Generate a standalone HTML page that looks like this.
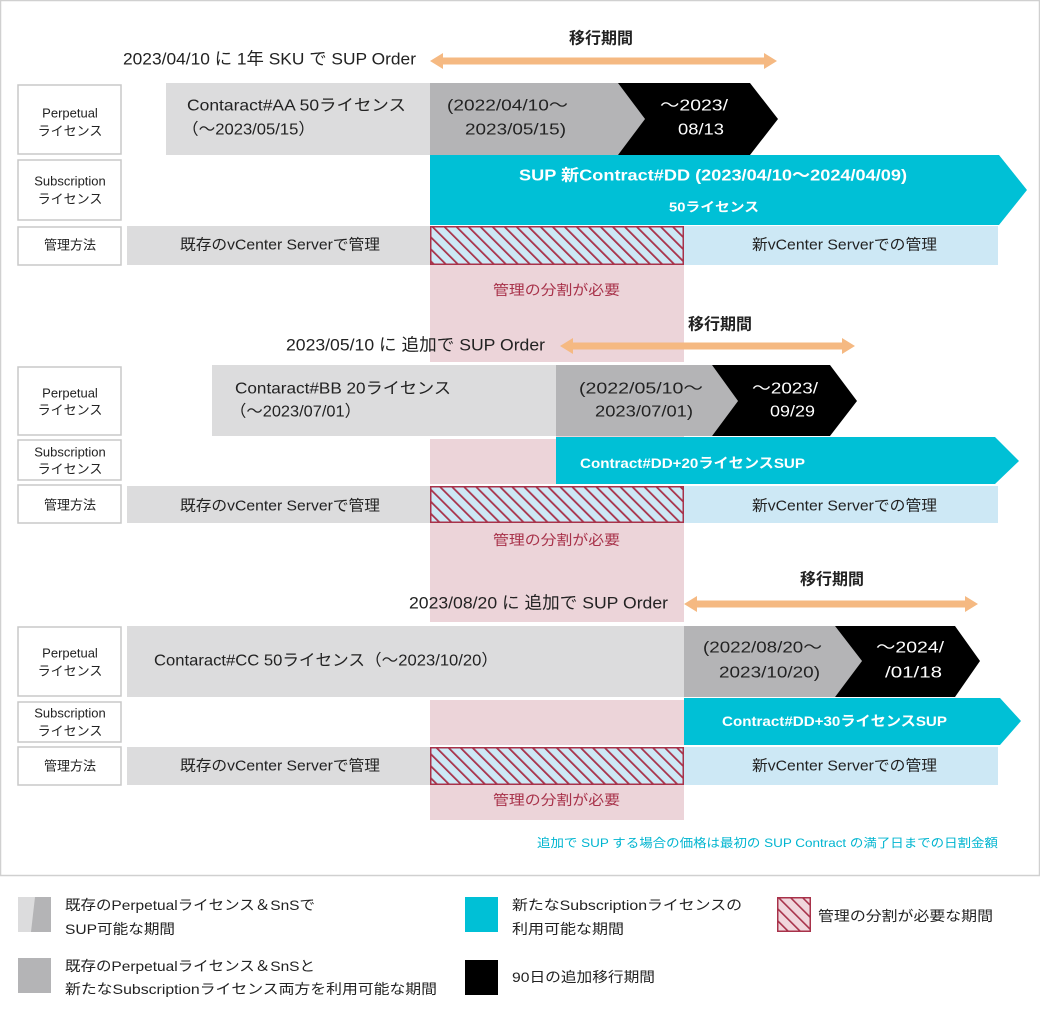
<!DOCTYPE html>
<html><head><meta charset="utf-8">
<style>
html,body{margin:0;padding:0;background:#fff;}
svg{display:block;}
text{font-family:"Liberation Sans","Noto Sans CJK JP",sans-serif;fill:#222;}
.lb{font-size:13px;text-anchor:middle;}
.w{fill:#fff;font-weight:bold;}
.pk{fill:#a8324a;font-size:14px;}
</style></head><body>
<svg width="1040" height="1012" viewBox="0 0 1040 1012" xmlns="http://www.w3.org/2000/svg">
<defs>
<pattern id="h" width="8.5" height="8.5" patternUnits="userSpaceOnUse" patternTransform="rotate(-45)">
<rect width="8.5" height="8.5" fill="#cde8f5"/>
<rect x="0" y="0" width="1.8" height="8.5" fill="#a8324a"/>
</pattern>
<pattern id="h2" width="8.5" height="8.5" patternUnits="userSpaceOnUse" patternTransform="rotate(-45)">
<rect width="8.5" height="8.5" fill="#f0d6dc"/>
<rect x="0" y="0" width="1.6" height="8.5" fill="#a8324a"/>
</pattern>
</defs>
<rect x="0.5" y="0.5" width="1039" height="875" fill="#fff" stroke="#d0d0d0" stroke-width="1.5"/>

<!-- pink column -->
<rect x="430" y="265" width="254" height="555" fill="#ecd4d9"/>
<rect x="430" y="362" width="254" height="3" fill="#fff"/>
<rect x="430" y="436" width="126" height="3" fill="#fff"/>
<rect x="430" y="484" width="254" height="2" fill="#fff"/>
<rect x="430" y="622" width="254" height="4" fill="#fff"/>
<rect x="430" y="697" width="254" height="3" fill="#fff"/>
<rect x="430" y="745" width="254" height="2" fill="#fff"/>

<!-- ============ Section 1 ============ -->
<text x="601" y="39" font-size="16" font-weight="bold" text-anchor="middle" dominant-baseline="central">移行期間</text>
<polygon points="430,61 443,53 443,57.5 764,57.5 764,53 777,61 764,69 764,64.5 443,64.5 443,69" fill="#f5b982"/>
<text x="123" y="59" font-size="17" dominant-baseline="central" textLength="293" lengthAdjust="spacingAndGlyphs">2023/04/10 に 1年 SKU で SUP Order</text>

<rect x="18" y="85" width="103" height="69" fill="#fff" stroke="#c8c8c8" stroke-width="1.5"/>
<text class="lb" x="70" y="113" dominant-baseline="central">Perpetual</text>
<text class="lb" x="70" y="131" dominant-baseline="central">ライセンス</text>
<rect x="18" y="160" width="103" height="60" fill="#fff" stroke="#c8c8c8" stroke-width="1.5"/>
<text class="lb" x="70" y="181" dominant-baseline="central">Subscription</text>
<text class="lb" x="70" y="199" dominant-baseline="central">ライセンス</text>
<rect x="18" y="227" width="103" height="38" fill="#fff" stroke="#c8c8c8" stroke-width="1.5"/>
<text class="lb" x="70" y="245" dominant-baseline="central">管理方法</text>

<rect x="166" y="83" width="264" height="72" fill="#dcdcdd"/>
<polygon points="430,83 620,83 645,119 620,155 430,155" fill="#b4b4b6"/>
<polygon points="618,83 750,83 778,119 750,155 618,155 645,119" fill="#000"/>
<text x="187" y="106" font-size="16" dominant-baseline="central" textLength="219" lengthAdjust="spacingAndGlyphs">Contaract#AA 50ライセンス</text>
<text x="182" y="130" font-size="16" dominant-baseline="central" textLength="133" lengthAdjust="spacingAndGlyphs">（〜2023/05/15）</text>
<text x="447" y="106" font-size="16" dominant-baseline="central" textLength="121" lengthAdjust="spacingAndGlyphs">(2022/04/10〜</text>
<text x="465" y="130" font-size="16" dominant-baseline="central" textLength="101" lengthAdjust="spacingAndGlyphs">2023/05/15)</text>
<text x="660" y="106" font-size="16" dominant-baseline="central" style="fill:#fff" textLength="68" lengthAdjust="spacingAndGlyphs">〜2023/</text>
<text x="678" y="130" font-size="16" dominant-baseline="central" style="fill:#fff" textLength="46" lengthAdjust="spacingAndGlyphs">08/13</text>

<polygon points="430,155 999,155 1027,190 999,225 430,225" fill="#00c0d6"/>
<text class="w" x="519" y="176" font-size="16" dominant-baseline="central" textLength="388" lengthAdjust="spacingAndGlyphs">SUP 新Contract#DD (2023/04/10〜2024/04/09)</text>
<text class="w" x="669" y="207" font-size="13" dominant-baseline="central" textLength="90" lengthAdjust="spacingAndGlyphs">50ライセンス</text>

<rect x="127" y="226" width="303" height="39" fill="#dcdcdd"/>
<rect x="430.75" y="226.75" width="252.5" height="37.5" fill="url(#h)" stroke="#a8324a" stroke-width="1.5"/>
<rect x="684" y="226" width="314" height="39" fill="#cde8f5"/>
<text x="180" y="245" font-size="15" dominant-baseline="central" textLength="200" lengthAdjust="spacingAndGlyphs">既存のvCenter Serverで管理</text>
<text x="752" y="245" font-size="15" dominant-baseline="central" textLength="185" lengthAdjust="spacingAndGlyphs">新vCenter Serverでの管理</text>
<text class="pk" x="493" y="290" dominant-baseline="central" textLength="127" lengthAdjust="spacingAndGlyphs">管理の分割が必要</text>

<!-- ============ Section 2 ============ -->
<text x="720" y="325" font-size="16" font-weight="bold" text-anchor="middle" dominant-baseline="central">移行期間</text>
<polygon points="560,346 573,338 573,342.5 842,342.5 842,338 855,346 842,354 842,349.5 573,349.5 573,354" fill="#f5b982"/>
<text x="286" y="345" font-size="17" dominant-baseline="central" textLength="259" lengthAdjust="spacingAndGlyphs">2023/05/10 に 追加で SUP Order</text>

<rect x="18" y="367" width="103" height="68" fill="#fff" stroke="#c8c8c8" stroke-width="1.5"/>
<text class="lb" x="70" y="393" dominant-baseline="central">Perpetual</text>
<text class="lb" x="70" y="410" dominant-baseline="central">ライセンス</text>
<rect x="18" y="440" width="103" height="40" fill="#fff" stroke="#c8c8c8" stroke-width="1.5"/>
<text class="lb" x="70" y="452" dominant-baseline="central">Subscription</text>
<text class="lb" x="70" y="469" dominant-baseline="central">ライセンス</text>
<rect x="18" y="485" width="103" height="38" fill="#fff" stroke="#c8c8c8" stroke-width="1.5"/>
<text class="lb" x="70" y="505" dominant-baseline="central">管理方法</text>

<rect x="212" y="365" width="344" height="71" fill="#dcdcdd"/>
<polygon points="556,365 712,365 738,401 712,436 556,436" fill="#b4b4b6"/>
<polygon points="712,365 830,365 857,401 830,436 712,436 738,401" fill="#000"/>
<text x="235" y="389" font-size="16" dominant-baseline="central" textLength="216" lengthAdjust="spacingAndGlyphs">Contaract#BB 20ライセンス</text>
<text x="230" y="412" font-size="16" dominant-baseline="central" textLength="131" lengthAdjust="spacingAndGlyphs">（〜2023/07/01）</text>
<text x="579" y="389" font-size="16" dominant-baseline="central" textLength="124" lengthAdjust="spacingAndGlyphs">(2022/05/10〜</text>
<text x="595" y="412" font-size="16" dominant-baseline="central" textLength="98" lengthAdjust="spacingAndGlyphs">2023/07/01)</text>
<text x="752" y="389" font-size="16" dominant-baseline="central" style="fill:#fff" textLength="66" lengthAdjust="spacingAndGlyphs">〜2023/</text>
<text x="770" y="412" font-size="16" dominant-baseline="central" style="fill:#fff" textLength="45" lengthAdjust="spacingAndGlyphs">09/29</text>

<polygon points="556,437 995,437 1019,461 995,484 556,484" fill="#00c0d6"/>
<text class="w" x="580" y="463" font-size="14" dominant-baseline="central" textLength="225" lengthAdjust="spacingAndGlyphs">Contract#DD+20ライセンスSUP</text>

<rect x="127" y="486" width="303" height="37" fill="#dcdcdd"/>
<rect x="430.75" y="486.75" width="252.5" height="35.5" fill="url(#h)" stroke="#a8324a" stroke-width="1.5"/>
<rect x="684" y="486" width="314" height="37" fill="#cde8f5"/>
<text x="180" y="506" font-size="15" dominant-baseline="central" textLength="200" lengthAdjust="spacingAndGlyphs">既存のvCenter Serverで管理</text>
<text x="752" y="506" font-size="15" dominant-baseline="central" textLength="185" lengthAdjust="spacingAndGlyphs">新vCenter Serverでの管理</text>
<text class="pk" x="493" y="540" dominant-baseline="central" textLength="127" lengthAdjust="spacingAndGlyphs">管理の分割が必要</text>

<!-- ============ Section 3 ============ -->
<text x="832" y="580" font-size="16" font-weight="bold" text-anchor="middle" dominant-baseline="central">移行期間</text>
<polygon points="684,604 697,596 697,600.5 965,600.5 965,596 978,604 965,612 965,607.5 697,607.5 697,612" fill="#f5b982"/>
<text x="409" y="603" font-size="17" dominant-baseline="central" textLength="259" lengthAdjust="spacingAndGlyphs">2023/08/20 に 追加で SUP Order</text>

<rect x="18" y="627" width="103" height="69" fill="#fff" stroke="#c8c8c8" stroke-width="1.5"/>
<text class="lb" x="70" y="653" dominant-baseline="central">Perpetual</text>
<text class="lb" x="70" y="671" dominant-baseline="central">ライセンス</text>
<rect x="18" y="702" width="103" height="40" fill="#fff" stroke="#c8c8c8" stroke-width="1.5"/>
<text class="lb" x="70" y="713" dominant-baseline="central">Subscription</text>
<text class="lb" x="70" y="731" dominant-baseline="central">ライセンス</text>
<rect x="18" y="747" width="103" height="38" fill="#fff" stroke="#c8c8c8" stroke-width="1.5"/>
<text class="lb" x="70" y="766" dominant-baseline="central">管理方法</text>

<rect x="127" y="626" width="557" height="71" fill="#dcdcdd"/>
<polygon points="684,626 835,626 862,661 835,697 684,697" fill="#b4b4b6"/>
<polygon points="835,626 955,626 980,661 955,697 835,697 862,661" fill="#000"/>
<text x="154" y="661" font-size="16" dominant-baseline="central" textLength="344" lengthAdjust="spacingAndGlyphs">Contaract#CC 50ライセンス（〜2023/10/20）</text>
<text x="703" y="648" font-size="16" dominant-baseline="central" textLength="119" lengthAdjust="spacingAndGlyphs">(2022/08/20〜</text>
<text x="719" y="673" font-size="16" dominant-baseline="central" textLength="101" lengthAdjust="spacingAndGlyphs">2023/10/20)</text>
<text x="876" y="648" font-size="16" dominant-baseline="central" style="fill:#fff" textLength="68" lengthAdjust="spacingAndGlyphs">〜2024/</text>
<text x="885" y="673" font-size="16" dominant-baseline="central" style="fill:#fff" textLength="57" lengthAdjust="spacingAndGlyphs">/01/18</text>

<polygon points="684,698 1000,698 1021,721 1000,745 684,745" fill="#00c0d6"/>
<text class="w" x="722" y="721" font-size="14" dominant-baseline="central" textLength="225" lengthAdjust="spacingAndGlyphs">Contract#DD+30ライセンスSUP</text>

<rect x="127" y="747" width="303" height="38" fill="#dcdcdd"/>
<rect x="430.75" y="747.75" width="252.5" height="36.5" fill="url(#h)" stroke="#a8324a" stroke-width="1.5"/>
<rect x="684" y="747" width="314" height="38" fill="#cde8f5"/>
<text x="180" y="766" font-size="15" dominant-baseline="central" textLength="200" lengthAdjust="spacingAndGlyphs">既存のvCenter Serverで管理</text>
<text x="752" y="766" font-size="15" dominant-baseline="central" textLength="185" lengthAdjust="spacingAndGlyphs">新vCenter Serverでの管理</text>
<text class="pk" x="493" y="800" dominant-baseline="central" textLength="127" lengthAdjust="spacingAndGlyphs">管理の分割が必要</text>

<text x="537" y="843" font-size="12" dominant-baseline="central" style="fill:#00b5d0" textLength="461" lengthAdjust="spacingAndGlyphs">追加で SUP する場合の価格は最初の SUP Contract の満了日までの日割金額</text>

<!-- ============ Legend ============ -->
<rect x="18" y="897" width="33" height="35" fill="#dcdcdd"/>
<polygon points="35,897 51,897 51,932 31,932" fill="#b4b4b6"/>
<text x="65" y="905" font-size="14" dominant-baseline="central" textLength="250" lengthAdjust="spacingAndGlyphs">既存のPerpetualライセンス＆SnSで</text>
<text x="65" y="929" font-size="14" dominant-baseline="central" textLength="110" lengthAdjust="spacingAndGlyphs">SUP可能な期間</text>

<rect x="18" y="958" width="33" height="35" fill="#b4b4b6"/>
<text x="65" y="966" font-size="14" dominant-baseline="central" textLength="250" lengthAdjust="spacingAndGlyphs">既存のPerpetualライセンス＆SnSと</text>
<text x="65" y="989" font-size="14" dominant-baseline="central" textLength="372" lengthAdjust="spacingAndGlyphs">新たなSubscriptionライセンス両方を利用可能な期間</text>

<rect x="465" y="897" width="33" height="35" fill="#00c0d6"/>
<text x="512" y="905" font-size="14" dominant-baseline="central" textLength="230" lengthAdjust="spacingAndGlyphs">新たなSubscriptionライセンスの</text>
<text x="512" y="929" font-size="14" dominant-baseline="central" textLength="112" lengthAdjust="spacingAndGlyphs">利用可能な期間</text>

<rect x="465" y="960" width="33" height="35" fill="#000"/>
<text x="512" y="977" font-size="14" dominant-baseline="central" textLength="143" lengthAdjust="spacingAndGlyphs">90日の追加移行期間</text>

<rect x="777.75" y="897.75" width="32.5" height="33.5" fill="url(#h2)" stroke="#a8324a" stroke-width="1.5"/>
<text x="818" y="916" font-size="14" dominant-baseline="central" textLength="175" lengthAdjust="spacingAndGlyphs">管理の分割が必要な期間</text>
</svg>
</body></html>
